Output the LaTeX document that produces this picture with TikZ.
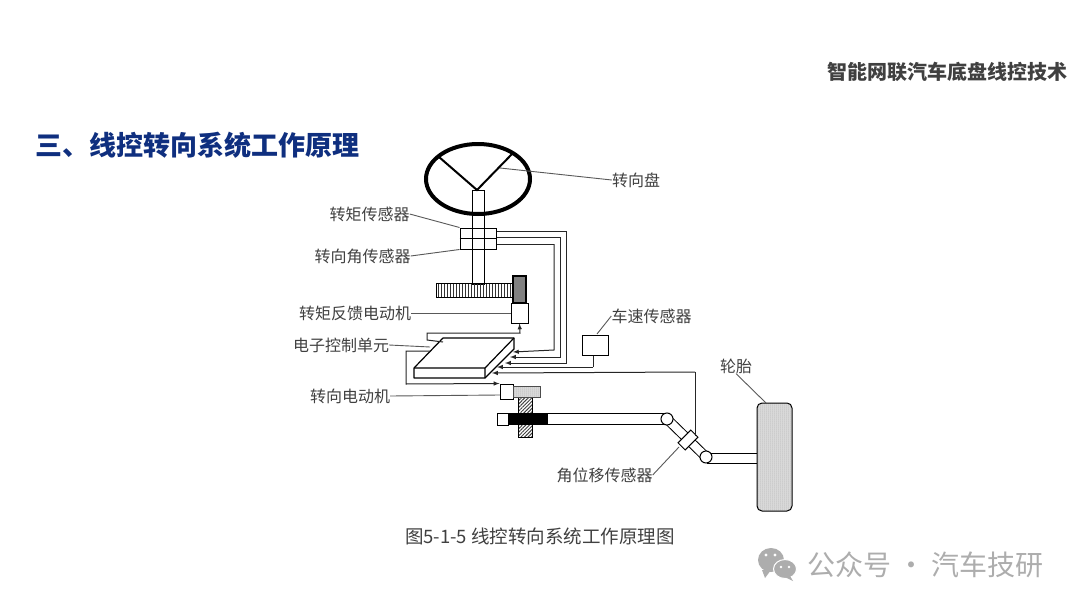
\documentclass[tikz,border=0pt]{standalone}
\usepackage{fontspec}
\setmainfont{Noto Sans CJK SC}
\usetikzlibrary{patterns.meta,shapes.geometric}
\definecolor{titleblue}{HTML}{0F2F7F}
\definecolor{labelgray}{HTML}{404040}
\definecolor{markgray}{HTML}{ADADAD}
\tikzset{
	lab/.style={font=\fontsize{16}{16}\selectfont,text=labelgray,inner sep=0pt},
	part/.style={draw=black,line width=1pt,fill=white,inner sep=0pt},
	wire/.style={draw=black!85,line width=1pt},
	lead/.style={draw=black!65,line width=.9pt},
	tip/.style={-latex,wire},
	dotted fill/.style={fill=none,preaction={fill=black!12},pattern={Dots[distance=2pt,radius=.5pt]},pattern color=black!45}
}
\begin{document}
\begin{tikzpicture}[x=1pt,y=-1pt]
	\useasboundingbox[fill=white] (0,0) rectangle (1080,608);

	\node[font=\fontsize{20}{20}\selectfont\bfseries,text=labelgray,inner sep=0pt,anchor=east] (head) at (1068,72) {智能网联汽车底盘线控技术};
	\node[font=\fontsize{27}{27}\selectfont\bfseries,text=titleblue,inner sep=0pt,anchor=west] (title) at (35,145) {三、线控转向系统工作原理};
	\node[font=\fontsize{18.5}{18.5}\selectfont,text=labelgray,inner sep=0pt] (caption) at (540,536) {图5-1-5 线控转向系统工作原理图};

	\node[part,minimum width=12pt,minimum height=94pt,fill=none] (shaft) at (478,237) {};
	\node[shape=ellipse,draw=black,line width=4pt,minimum width=104pt,minimum height=70pt,inner sep=0pt] (wheel) at (478,179) {};
	\coordinate (hub) at (477,190);
	\coordinate (spokel) at (439,157);
	\coordinate (spoker) at (512,154);
	\coordinate (spokep) at (500,168);
	\draw[line width=2pt] (spokel) -- (hub) -- (spoker);

	\node[part,fill=none,minimum width=36pt,minimum height=21pt] (sens) at (478,238.5) {};
	\draw[line width=1pt] (sens.west) -- (sens.east);

	\node[part,minimum width=77pt,minimum height=14pt,pattern={Lines[angle=90,distance=3pt,line width=.8pt]},pattern color=black!80] (rack) at (474.5,290) {};
	\node[part,line width=1.6pt,fill=black!50,minimum width=13pt,minimum height=27pt] (gear) at (519.5,289.5) {};
	\node[part,minimum width=17pt,minimum height=20pt] (fbmotor) at (519.5,313) {};

	\coordinate (ecua) at (443,338);
	\coordinate (ecub) at (514,338);
	\coordinate (ecuc) at (485,368);
	\coordinate (ecud) at (414,368);
	\coordinate (ecue) at (414,378);
	\coordinate (ecuf) at (485,378);
	\coordinate (ecug) at (514,349);
	\draw[line width=1.2pt,fill=white,line join=round] (ecua) -- (ecub) -- (ecug) -- (ecuf) -- (ecue) -- (ecud) -- cycle;
	\draw[line width=1.2pt] (ecud) -- (ecuc) -- (ecub) (ecuc) -- (ecuf);

	\node[part,minimum width=26pt,minimum height=20pt] (speed) at (595,345) {};

	\node[part,minimum width=14pt,minimum height=40pt,pattern={Lines[angle=45,distance=2.5pt,line width=1pt]},pattern color=black!75] (pinion) at (525,417) {};
	\node[part,minimum width=13pt,minimum height=15pt] (motor) at (506.5,391.5) {};
	\node[part,minimum width=27pt,minimum height=11pt,dotted fill,draw=black!70] (mgear) at (526.5,391.5) {};
	\node[part,minimum width=120pt,minimum height=11pt] (bar) at (605,418.5) {};
	\node[part,fill=black,minimum width=39pt,minimum height=11pt] (barblack) at (527.5,418.5) {};
	\node[part,minimum width=11pt,minimum height=12pt] (barend) at (502.5,419) {};

	\coordinate (linka) at (667,419);
	\coordinate (linkb) at (706,457);
	\draw[line width=10pt] (linka) -- (linkb);
	\draw[white,line width=8pt] (linka) -- (linkb);
	\node[part,minimum width=50pt,minimum height=10pt] (axle) at (732,458) {};
	\node[part,shape=circle,minimum size=12pt] (jointa) at (linka) {};
	\node[part,shape=circle,minimum size=12pt] (jointb) at (linkb) {};
	\node[part,rotate=-45,minimum width=10pt,minimum height=18pt] (angle) at (688,440) {};

	\node[part,rounded corners=5pt,minimum width=35pt,minimum height=108pt,dotted fill] (tire) at (774.5,457) {};

	\coordinate (wa) at (566,231);
	\coordinate (wb) at (560,237);
	\coordinate (wc) at (554,244);
	\coordinate (wd) at (566,363);
	\coordinate (we) at (560,357);
	\coordinate (wf) at (554,350);
	\coordinate (ea) at (505,363);
	\coordinate (eb) at (510,357);
	\coordinate (ec) at (513,352);
	\coordinate (ed) at (593,367);
	\coordinate (ee) at (497,367);
	\coordinate (ef) at (695,372);
	\coordinate (eg) at (492,373);
	\coordinate (eh) at (695,436);
	\draw[wire] (sens.east |- wa) -- (wa);
	\draw[tip] (wa) -- (wd) -- (ea);
	\draw[wire] (sens.east |- wb) -- (wb);
	\draw[tip] (wb) -- (we) -- (eb);
	\draw[wire] (sens.east |- wc) -- (wc);
	\draw[tip] (wc) -- (wf) -- (ec);
	\draw[wire] (speed.south -| ed) -- (ed);
	\draw[tip] (ed) -- (ee);
	\draw[wire] (eh) -- (ef);
	\draw[tip] (ef) -- (eg);

	\coordinate (la) at (443,342);
	\coordinate (lb) at (427,340);
	\coordinate (lc) at (427,333);
	\coordinate (ld) at (520,333);
	\draw[tip] (la) -- (lb) -- (lc) -- (ld) -- (fbmotor.south);
	\coordinate (ma) at (430,351);
	\coordinate (mb) at (406,351);
	\coordinate (mc) at (406,384);
	\draw[tip] (ma) -- (mb) -- (mc) -- (motor.north west);

	\node[lab] (lwheel) at (636,180) {转向盘};
	\node[lab] (ltorque) at (369.5,214) {转矩传感器};
	\node[lab] (lsteer) at (362.5,256) {转向角传感器};
	\node[lab] (lfb) at (355,313) {转矩反馈电动机};
	\node[lab] (lecu) at (341,345) {电子控制单元};
	\node[lab] (lmotor) at (350,396) {转向电动机};
	\node[lab] (lspeed) at (651.5,316) {车速传感器};
	\node[lab] (ltire) at (736,366) {轮胎};
	\node[lab] (lang) at (604.5,475) {角位移传感器};

	\coordinate (ecuin) at (430,347);
	\coordinate (tireup) at (766,403);
	\coordinate (speedup) at (597,334);
	\coordinate (angdn) at (679,447);
	\coordinate (motorin) at (500,395);
	\draw[lead] (lwheel.west) -- (spokep);
	\draw[lead] (ltorque.east) -- (sens.north west);
	\draw[lead] (lsteer.east) -- (sens.south west);
	\draw[lead] (lfb.east) -- (fbmotor.west);
	\draw[lead] (lecu.east) -- (ecuin);
	\draw[lead] (lmotor.east) -- (motorin);
	\draw[lead] (lspeed.west) -- (speedup);
	\draw[lead] (ltire.south) -- (tireup);
	\draw[lead] (lang.east) -- (angdn);

	\fill[markgray] (771,560) ellipse (13 and 12);
	\fill[markgray] (762,570) -- (765,578) -- (771,570) -- cycle;
	\draw[white,fill=markgray,line width=1pt] (785,569) ellipse (11.5 and 9.5);
	\fill[markgray] (790,576) -- (793,581) -- (785,577) -- cycle;
	\fill[white] (766,555) circle (1.6) (775,555) circle (1.6) (781,567) circle (1.4) (789,567) circle (1.4);
	\node[font=\fontsize{28}{28}\selectfont,text=markgray,inner sep=0pt,anchor=west] (mark) at (807,565) {公众号 · 汽车技研};
\end{tikzpicture}
\end{document}
